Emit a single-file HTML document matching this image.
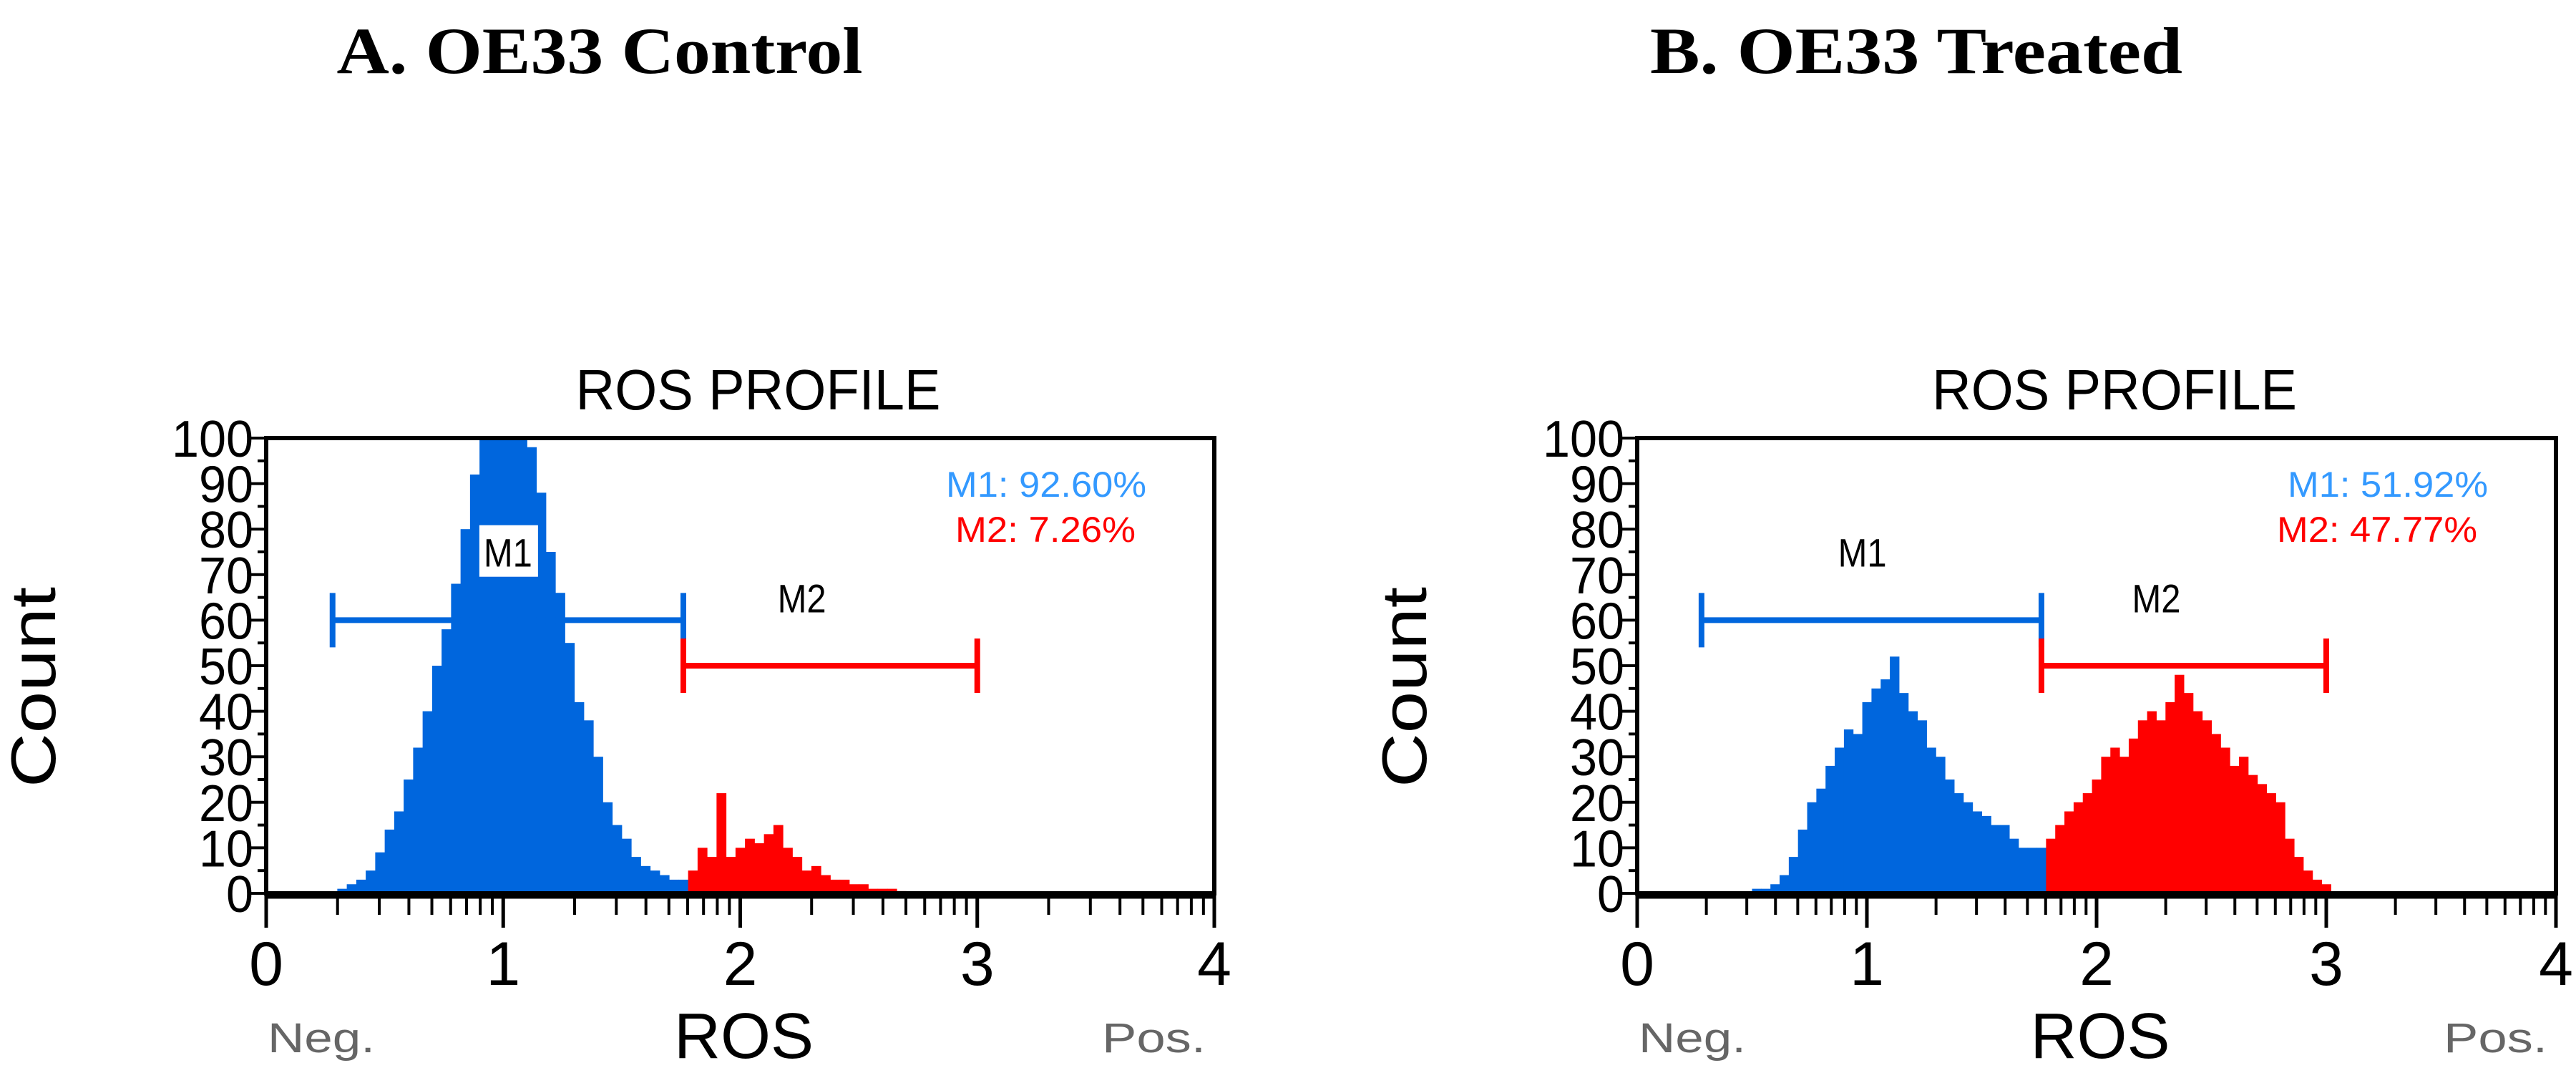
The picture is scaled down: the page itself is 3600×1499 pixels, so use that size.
<!DOCTYPE html>
<html><head><meta charset="utf-8"><style>
html,body{margin:0;padding:0;background:#fff;}
svg{display:block;}
</style></head><body>
<svg id="fig" width="3600" height="1499" viewBox="0 0 3600 1499" xmlns="http://www.w3.org/2000/svg">
<text x="838" y="102" text-anchor="middle" font-family="Liberation Serif, serif" font-weight="bold" font-size="92" textLength="735" lengthAdjust="spacingAndGlyphs">A. OE33 Control</text>
<text x="2678" y="102" text-anchor="middle" font-family="Liberation Serif, serif" font-weight="bold" font-size="92" textLength="744" lengthAdjust="spacingAndGlyphs">B. OE33 Treated</text>
<g id="panelA"></g>
<g id="panelB"></g>
</svg>
<script>
// Panel A (Control) histogram: bin starts (ROS), counts
const binStartA = [0.30,0.34,0.38,0.42,0.46,0.50,0.54,0.58,0.62,0.66,0.70,0.74,0.78,0.82,0.86,0.90,0.94,0.98,1.02,1.06,1.10,1.14,1.18,1.22,1.26,1.30,1.34,1.38,1.42,1.46,1.50,1.54,1.58,1.62,1.66,1.70,1.74,
  1.78,1.82,1.86,1.90,1.94,1.98,2.02,2.06,2.10,2.14,2.18,2.22,2.26,2.30,2.34,2.38,2.42,2.46,2.50,2.54,2.58,2.62,2.66];
const countA = [1,2,3,5,9,14,18,25,32,40,50,58,68,80,92,100,100,100,100,100,98,88,75,66,55,42,38,30,20,15,12,8,6,5,4,3,3,
  5,10,8,22,8,10,12,11,13,15,10,8,5,6,4,3,3,2,2,1,1,1,0.5];
// Panel B (Treated)
const binStartB = [0.50,0.54,0.58,0.62,0.66,0.70,0.74,0.78,0.82,0.86,0.90,0.94,0.98,1.02,1.06,1.10,1.14,1.18,1.22,1.26,1.30,1.34,1.38,1.42,1.46,1.50,1.54,1.58,1.62,1.66,1.70,1.74,
  1.78,1.82,1.86,1.90,1.94,1.98,2.02,2.06,2.10,2.14,2.18,2.22,2.26,2.30,2.34,2.38,2.42,2.46,2.50,2.54,2.58,2.62,2.66,2.70,2.74,2.78,2.82,2.86,2.90,2.94,2.98];
const countB = [1,1,2,4,8,14,20,23,28,32,36,35,42,45,47,52,44,40,38,32,30,25,22,20,18,17,15,15,12,10,10,10,
  12,15,18,20,22,25,30,32,30,34,38,40,38,42,48,44,40,38,35,32,28,30,26,24,22,20,12,8,5,3,2];
const binWidth = 0.04;
const gateSplit = 1.76;
const gateM1A = [0.28, 1.76, 60], gateM2A = [1.76, 3.0, 50];
const gateM1B = [0.28, 1.76, 60], gateM2B = [1.76, 3.0, 50];
const statsA = ["M1: 92.60%", "M2: 7.26%"];
const statsB = ["M1: 51.92%", "M2: 47.77%"];
const yTicks = [0,10,20,30,40,50,60,70,80,90,100];
const xTicks = [0,1,2,3,4];

const NS = "http://www.w3.org/2000/svg";
function mk(parent, tag, attrs, text){
  const e = document.createElementNS(NS, tag);
  for (const k in attrs) e.setAttribute(k, attrs[k]);
  if (text !== undefined) e.textContent = text;
  parent.appendChild(e);
  return e;
}
const BLUE = "#0066dd", RED = "#ff0000";

function drawPanel(g, L, R, T, B, bins, counts, m1, m2, stats, m1Boxed, m1LabelPos){
  const xs = v => L + (R - L) * v / 4;
  const ys = v => B - (B - T) * Math.min(v, 100) / 100;
  const font = "Liberation Sans, Arial, sans-serif";
  const t = mk(g, "text", {x:(L+R)/2 + 25, y:T-40, "text-anchor":"middle", "font-family":font, "font-size":80, textLength:510, lengthAdjust:"spacingAndGlyphs"}, "ROS PROFILE");
  
  
  for (let i = 0; i < bins.length; i++){
    const r = mk(g, "rect", {x:xs(bins[i]), y:ys(counts[i]), width:xs(bins[i]+binWidth)-xs(bins[i])+0.5, height:B-ys(counts[i]), fill: bins[i] < gateSplit ? BLUE : RED});
    
    
  }
  const box = mk(g, "rect", {x:L, y:T, width:R-L, height:B-T, fill:"none", stroke:"#000", "stroke-width":6});
  
  
  mk(g, "line", {x1:L, y1:B+3, x2:R, y2:B+3, stroke:"#000", "stroke-width":9});
  yTicks.forEach((v, i) => {
    mk(g, "line", {x1:L-22, y1:ys(v), x2:L, y2:ys(v), stroke:"#000", "stroke-width":4});
    if (i < yTicks.length-1) mk(g, "line", {x1:L-12, y1:ys(v+5), x2:L, y2:ys(v+5), stroke:"#000", "stroke-width":4});
    const s = String(v);
    const tl = mk(g, "text", {x:L-18, y:ys(v)+26, "text-anchor":"end", "font-family":font, "font-size":72, textLength: s.length*38, lengthAdjust:"spacingAndGlyphs"}, s);
    
    
  });
  xTicks.forEach((v, i) => {
    mk(g, "line", {x1:xs(v), y1:B, x2:xs(v), y2:B+48, stroke:"#000", "stroke-width":5});
    if (i < xTicks.length-1){
      for (let k = 2; k <= 9; k++){
        const xv = v + Math.log10(k);
        mk(g, "line", {x1:xs(xv), y1:B, x2:xs(xv), y2:B+30, stroke:"#000", "stroke-width":4});
      }
    }
    const xl = mk(g, "text", {x:xs(v), y:B+128, "text-anchor":"middle", "font-family":font, "font-size":86}, String(v));
    
    
  });
  const xt = mk(g, "text", {x:(L+R)/2+5, y:B+230, "text-anchor":"middle", "font-family":font, "font-size":90}, "ROS");
  
  
  const ng = mk(g, "text", {x:L+2, y:B+222, "font-family":font, "font-size":58, fill:"#666", textLength:150, lengthAdjust:"spacingAndGlyphs"}, "Neg.");
  
  
  const ps = mk(g, "text", {x:R-12, y:B+222, "text-anchor":"end", "font-family":font, "font-size":58, fill:"#666", textLength:145, lengthAdjust:"spacingAndGlyphs"}, "Pos.");
  
  
  const cx = L - 295, cy = (T+B)/2 + 30;
  const yt = mk(g, "text", {x:cx, y:cy, "text-anchor":"middle", "font-family":font, "font-size":88, textLength:280, lengthAdjust:"spacingAndGlyphs", transform:`rotate(-90 ${cx} ${cy})`}, "Count");
  
  
  function gate(gd, col, name){
    const y = ys(gd[2]);
    const gg = mk(g, "g", {stroke:col, "stroke-width":8});
    
    
    mk(gg, "line", {x1:xs(gd[0]), y1:y, x2:xs(gd[1]), y2:y});
    mk(gg, "line", {x1:xs(gd[0]), y1:y-38, x2:xs(gd[0]), y2:y+38});
    mk(gg, "line", {x1:xs(gd[1]), y1:y-38, x2:xs(gd[1]), y2:y+38});
  }
  gate(m1, BLUE, "m1-gate");
  gate(m2, RED, "m2-gate");
  const m1x = xs(m1LabelPos[0]), m1y = ys(m1LabelPos[1]);
  if (m1Boxed) mk(g, "rect", {x:m1x-40, y:m1y-50, width:82, height:72, fill:"#fff"});
  const l1 = mk(g, "text", {x:m1x, y:m1y+8, "text-anchor":"middle", "font-family":font, "font-size":56, textLength:68, lengthAdjust:"spacingAndGlyphs"}, "M1");
  
  
  const l2 = mk(g, "text", {x:xs((m2[0]+m2[1])/2 - 0.12), y:ys(63)+8, "text-anchor":"middle", "font-family":font, "font-size":56, textLength:68, lengthAdjust:"spacingAndGlyphs"}, "M2");
  
  
  const s1 = mk(g, "text", {x:R-95, y:T+82, "text-anchor":"end", "font-family":font, "font-size":50, fill:"#3399ff", textLength:stats[0].length*28, lengthAdjust:"spacingAndGlyphs"}, stats[0]);
  
  
  const s2 = mk(g, "text", {x:R-110, y:T+145, "text-anchor":"end", "font-family":font, "font-size":50, fill:RED, textLength:stats[1].length*28, lengthAdjust:"spacingAndGlyphs"}, stats[1]);
  
  
}
drawPanel(document.getElementById("panelA"), 372, 1697, 612, 1248, binStartA, countA, gateM1A, gateM2A, statsA, true, [1.02, 73]);
drawPanel(document.getElementById("panelB"), 2288, 3572, 612, 1248, binStartB, countB, gateM1B, gateM2B, statsB, false, [0.98, 73]);
</script>
</body></html>
